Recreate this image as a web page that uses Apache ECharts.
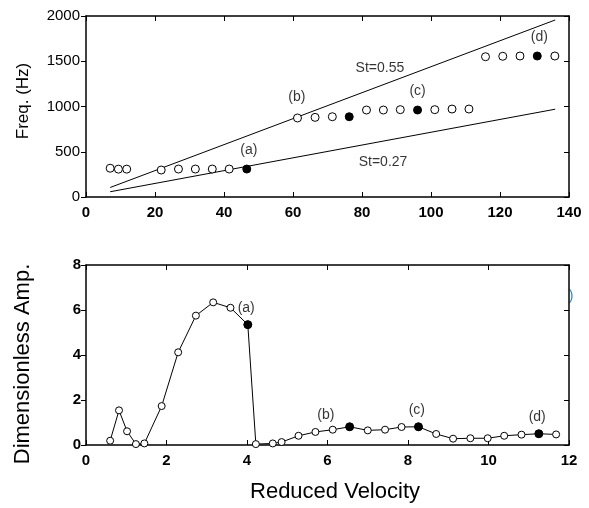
<!DOCTYPE html>
<html>
<head>
<meta charset="utf-8">
<script src="https://cdn.jsdelivr.net/npm/echarts@6/dist/echarts.min.js"></script>
<style>html,body{margin:0;padding:0;background:#fff}#c{width:589px;height:508px}</style>
</head>
<body>
<div id="c"></div>
<script>
// ---- Top panel: frequency vs reduced velocity ----
var topOpenV = [7.0, 9.4, 11.8, 21.8, 26.8, 31.7, 36.6, 41.5, 61.3, 66.4, 71.4, 81.3, 86.2, 91.1, 101.1, 106.1, 111.0, 115.8, 120.8, 125.8, 135.9];
var topOpenF = [318, 308, 308, 298, 309, 309, 309, 309, 873, 880, 887, 961, 961, 965, 965, 972, 972, 1550, 1555, 1558, 1558];
var topFillV = [46.6, 76.3, 96.1, 130.8];
var topFillF = [309, 887, 961, 1558];
var st055V = [7, 136];
var st055F = [105, 1956];
var st027V = [7, 136];
var st027F = [58, 970];
var topNoteText = ['(a)', '(b)', '(c)', '(d)', 'St=0.55', 'St=0.27'];
var topNoteV = [47.2, 61.1, 96.1, 131.4, 85.2, 86.1];
var topNoteF = [519, 1105, 1175, 1771, 1425, 387];
var topXTicks = [0, 20, 40, 60, 80, 100, 120, 140];
var topYTicks = [0, 500, 1000, 1500, 2000];

// ---- Bottom panel: amplitude vs reduced velocity ----
var ampV = [0.60, 0.82, 1.02, 1.24, 1.45, 1.88, 2.29, 2.73, 3.16, 3.59, 4.02, 4.22, 4.64, 4.86, 5.28, 5.70, 6.13, 6.55, 7.00, 7.43, 7.84, 8.26, 8.70, 9.12, 9.55, 9.98, 10.39, 10.82, 11.25, 11.68];
var ampA = [0.19, 1.54, 0.61, 0.04, 0.07, 1.73, 4.12, 5.75, 6.34, 6.10, 5.35, 0.04, 0.07, 0.13, 0.41, 0.58, 0.68, 0.81, 0.65, 0.68, 0.80, 0.81, 0.49, 0.28, 0.30, 0.30, 0.41, 0.46, 0.50, 0.47];
var ampFillV = [4.02, 6.55, 8.26, 11.25];
var ampFillA = [5.35, 0.81, 0.81, 0.50];
var botNoteText = ['(a)', '(b)', '(c)', '(d)'];
var botNoteV = [3.98, 5.96, 8.22, 11.21];
var botNoteA = [6.10, 1.33, 1.56, 1.26];
var botXTicks = [0, 2, 4, 6, 8, 10, 12];
var botYTicks = [0, 2, 4, 6, 8];

function zip(a, b) { return a.map(function (v, i) { return [v, b[i]]; }); }
function notes(t, a, b) { return t.map(function (s, i) { return { name: s, value: [a[i], b[i]] }; }); }

var FONT = 'Liberation Sans, Arial, sans-serif';
var black = '#000';
function plain(v) { return String(v); }

function xAx(grid, ticks, pos, labels) {
  return {
    type: 'value', gridIndex: grid, min: ticks[0], max: ticks[ticks.length - 1], interval: ticks[1] - ticks[0], position: pos,
    axisLine: { show: true, onZero: false, lineStyle: { color: black, width: 1.5 } },
    axisTick: { show: true, inside: true, length: 5, lineStyle: { color: black, width: 1 } },
    axisLabel: { show: labels, color: black, fontSize: 15, fontWeight: 'bold', fontFamily: FONT, margin: 8, formatter: plain },
    splitLine: { show: false }
  };
}
function yAx(grid, ticks, pos, labels, weight, margin) {
  return {
    type: 'value', gridIndex: grid, min: ticks[0], max: ticks[ticks.length - 1], interval: ticks[1] - ticks[0], position: pos,
    axisLine: { show: true, onZero: false, lineStyle: { color: black, width: 1.5 } },
    axisTick: { show: true, inside: !labels, length: 5, lineStyle: { color: black, width: 1 } },
    axisLabel: { show: labels, color: black, fontSize: 15, fontWeight: weight || 'normal', fontFamily: FONT, margin: margin || 6, formatter: plain },
    splitLine: { show: false }
  };
}

var noteLabel = { show: true, position: 'inside', color: black, fontSize: 14, fontFamily: FONT, formatter: '{b}' };

var chart = echarts.init(document.getElementById('c'), null, { renderer: 'canvas' });
chart.setOption({
  backgroundColor: '#fff',
  animation: false,
  grid: [
    { left: 86, top: 16, width: 483, height: 181 },
    { left: 86, top: 265, width: 483, height: 180 }
  ],
  xAxis: [
    xAx(0, topXTicks, 'bottom', true),
    xAx(0, topXTicks, 'top', false),
    xAx(1, botXTicks, 'bottom', true),
    xAx(1, botXTicks, 'top', false)
  ],
  yAxis: [
    yAx(0, topYTicks, 'left', true, 'normal', 6),
    yAx(0, topYTicks, 'right', false),
    yAx(1, botYTicks, 'left', true, 'bold', 5),
    yAx(1, botYTicks, 'right', false)
  ],
  series: [
    { type: 'line', xAxisIndex: 0, yAxisIndex: 0, data: zip(st055V, st055F), symbol: 'none', lineStyle: { color: black, width: 1 }, z: 2 },
    { type: 'line', xAxisIndex: 0, yAxisIndex: 0, data: zip(st027V, st027F), symbol: 'none', lineStyle: { color: black, width: 1 }, z: 2 },
    { type: 'scatter', xAxisIndex: 0, yAxisIndex: 0, data: zip(topOpenV, topOpenF), symbol: 'circle', symbolSize: 8,
      itemStyle: { color: '#fff', borderColor: black, borderWidth: 1, opacity: 1 }, z: 3 },
    { type: 'scatter', xAxisIndex: 0, yAxisIndex: 0, data: zip(topFillV, topFillF), symbol: 'circle', symbolSize: 8,
      itemStyle: { color: black, borderColor: black, borderWidth: 1, opacity: 1 }, z: 3 },
    { type: 'scatter', xAxisIndex: 0, yAxisIndex: 0, data: notes(topNoteText, topNoteV, topNoteF), symbolSize: 0,
      label: noteLabel, z: 4 },

    { type: 'line', xAxisIndex: 2, yAxisIndex: 2, data: zip(ampV, ampA), symbol: 'circle', symbolSize: 7, showSymbol: true,
      lineStyle: { color: black, width: 1 }, itemStyle: { color: '#fff', borderColor: black, borderWidth: 1, opacity: 1 }, z: 2 },
    { type: 'scatter', xAxisIndex: 2, yAxisIndex: 2, data: zip(ampFillV, ampFillA), symbol: 'circle', symbolSize: 8,
      itemStyle: { color: black, borderColor: black, borderWidth: 1, opacity: 1 }, z: 3 },
    { type: 'scatter', xAxisIndex: 2, yAxisIndex: 2, data: notes(botNoteText, botNoteV, botNoteA), symbolSize: 0,
      label: noteLabel, z: 4 }
  ],
  graphic: [
    { type: 'text', x: 23, y: 101, rotation: Math.PI / 2,
      style: { text: 'Freq. (Hz)', fill: black, font: '17px ' + FONT, textAlign: 'center', textVerticalAlign: 'middle' } },
    { type: 'text', x: 23, y: 364, rotation: Math.PI / 2,
      style: { text: 'Dimensionless Amp.', fill: black, font: '22px ' + FONT, textAlign: 'center', textVerticalAlign: 'middle' } },
    { type: 'text', x: 335, y: 492,
      style: { text: 'Reduced Velocity', fill: black, font: '22px ' + FONT, textAlign: 'center', textVerticalAlign: 'middle' } },
    { type: 'text', x: 571, y: 296,
      style: { text: ')', fill: '#2b87d8', font: '14px ' + FONT, textAlign: 'center', textVerticalAlign: 'middle' } }
  ]
});
</script>
</body>
</html>
